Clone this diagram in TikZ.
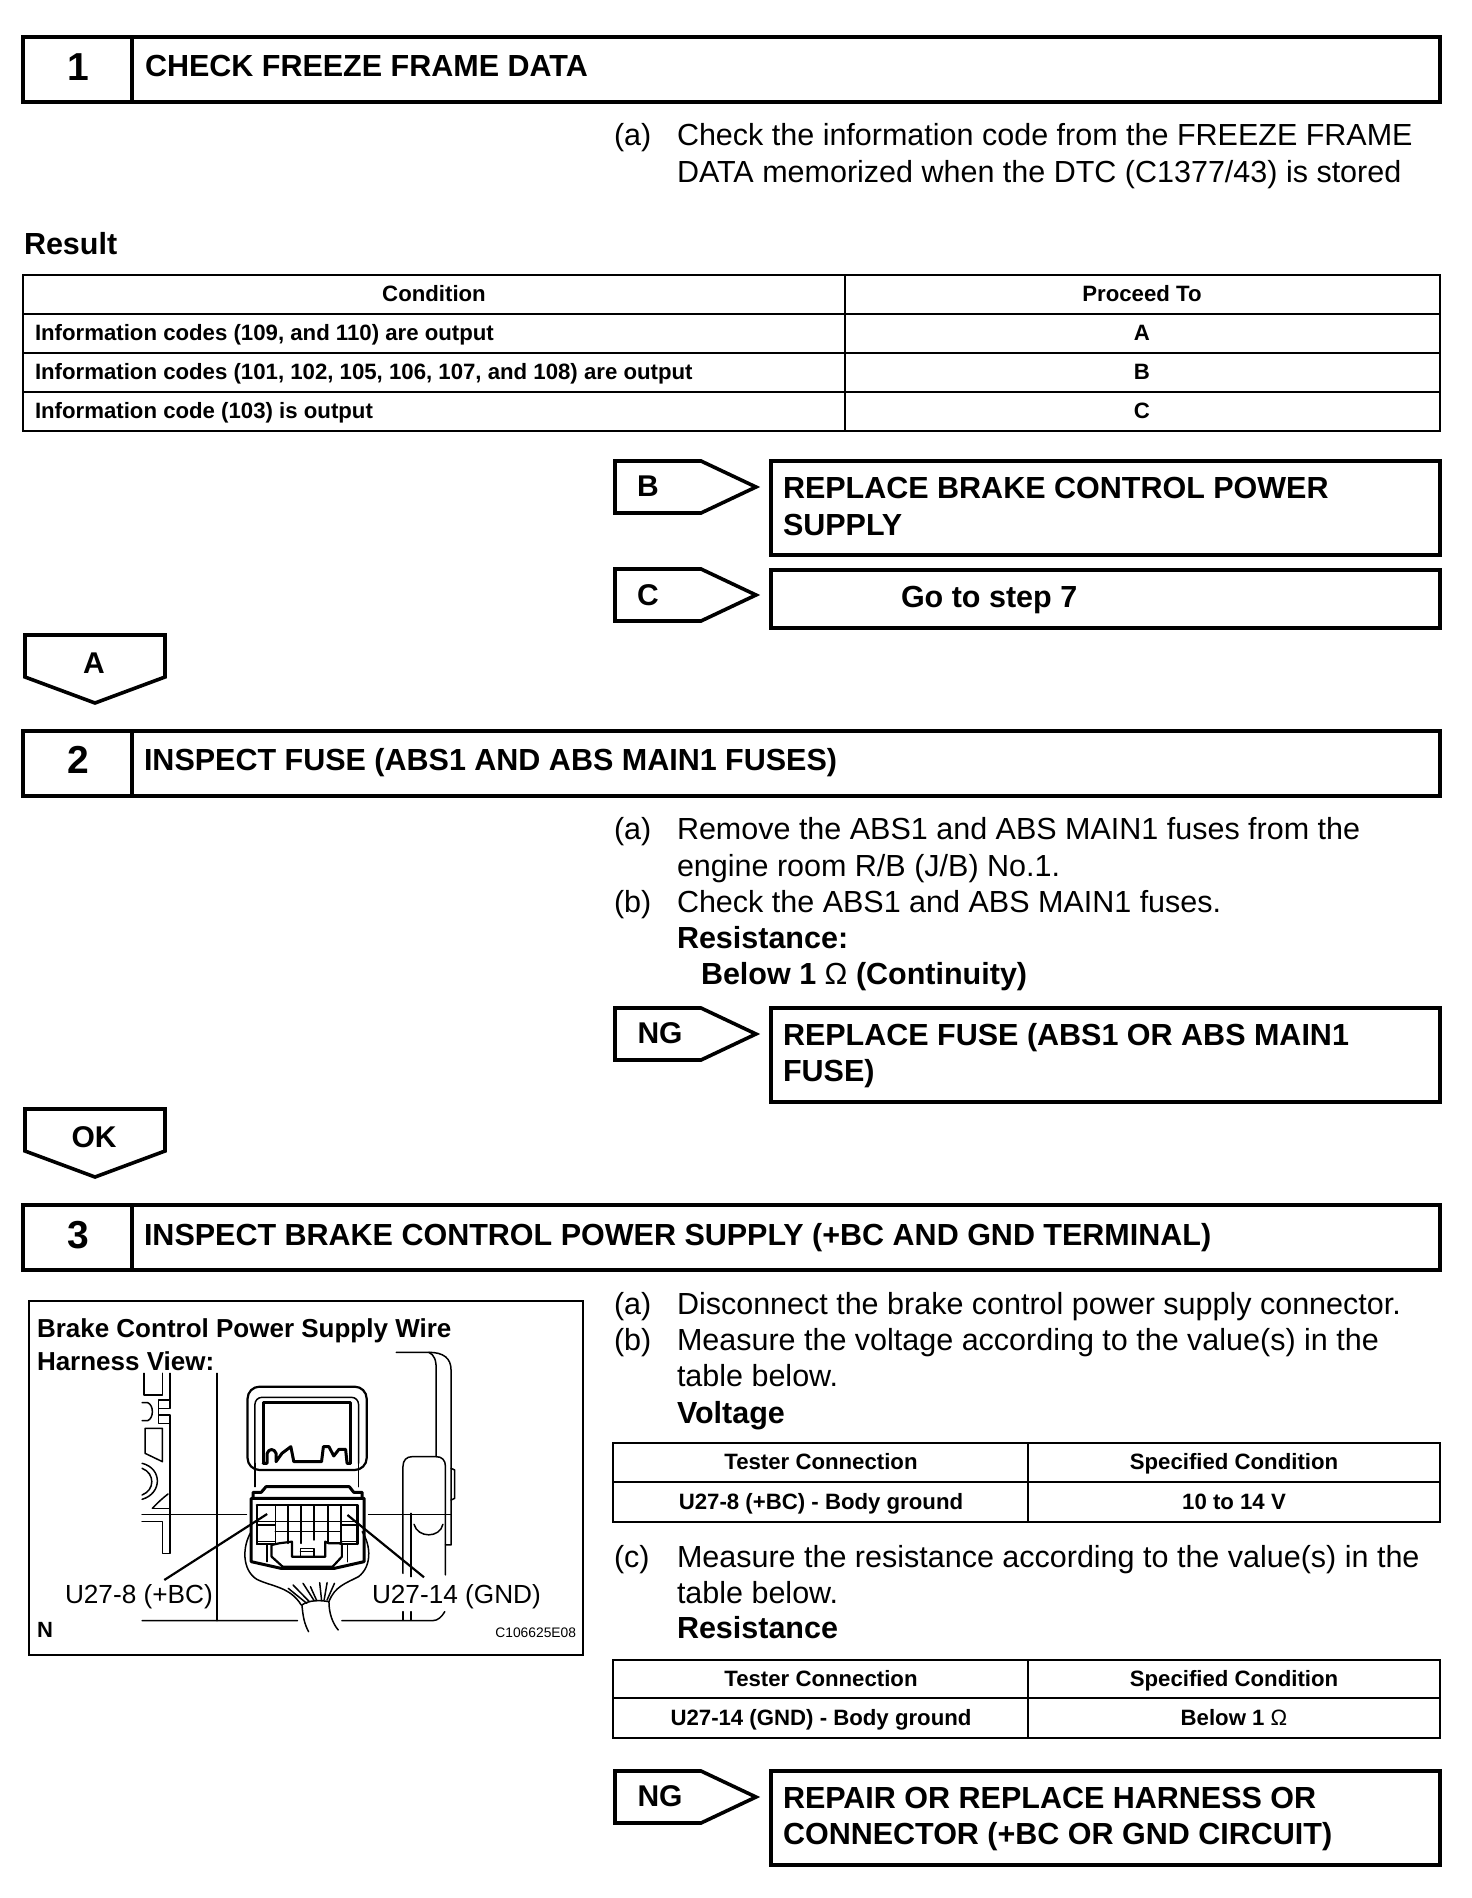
\documentclass[tikz,border=0pt]{standalone}
\usepackage{fontspec}
\setmainfont{Liberation Sans}
\newcommand{\fs}[1]{\fontsize{#1}{#1}\selectfont}
\tikzset{
 x=1pt,y=-1pt,
 txt/.style={inner sep=0pt,outer sep=0pt,text depth=0pt},
 body/.style={txt,anchor=west,font=\fs{30.5},text height=21.9pt},
 bodyb/.style={txt,anchor=west,font=\fs{30.5}\bfseries,text height=21.9pt},
 num/.style={txt,anchor=center,font=\fs{39}\bfseries,text height=28pt},
 head/.style={txt,anchor=west,font=\fs{30.5}\bfseries,text height=21.9pt},
 cell/.style={txt,anchor=west,font=\fs{22.2}\bfseries,text height=16pt},
 cellc/.style={txt,anchor=center,font=\fs{22.2}\bfseries,text height=16pt},
 tag/.style={txt,anchor=center,font=\fs{30}\bfseries,text height=21.6pt},
 figb/.style={txt,anchor=west,font=\fs{26}\bfseries,text height=18.7pt},
 figl/.style={txt,anchor=west,font=\fs{26.2},text height=18.8pt},
 frame/.style={draw,line width=4pt,line join=miter},
 tbl/.style={draw,line width=2.4pt},
 result/.style={draw,line width=3.4pt},
 pent/.style={draw,line width=3.6pt,line join=miter},
 art/.style={line width=1.5pt,line cap=round,line join=round},
 artm/.style={line width=2.2pt,line cap=round,line join=round},
 artb/.style={line width=3pt,line cap=round,line join=round},
}
\begin{document}
\begin{tikzpicture}
\useasboundingbox (0,0) rectangle (1472,1898);
% section 1
\draw[frame] (23,37) rectangle (1440,102) (132,37) -- (132,102);
\node[num] (n1) at (78,66) {1};
\node[head] (t1) at (145,66) {CHECK FREEZE FRAME DATA};
\node[body] (a1) at (614,135) {(a)};
\node[body] (a1x) at (677,135) {Check the information code from the FREEZE FRAME};
\node[body] (a1y) at (677,172) {DATA memorized when the DTC (C1377/43) is stored};
\node[bodyb] (res) at (24,243.5) {Result};
% table 1
\draw[tbl] (23,275) rectangle (1440,431) (845,275) -- (845,431)
 (23,314) -- (1440,314) (23,353) -- (1440,353) (23,392) -- (1440,392);
\node[cellc] (h1) at (434,293) {Condition};
\node[cellc] (h2) at (1142,293) {Proceed To};
\node[cell] (r1) at (35,332) {Information codes (109, and 110) are output};
\node[cellc] (r1b) at (1142,332) {A};
\node[cell] (r2) at (35,371) {Information codes (101, 102, 105, 106, 107, and 108) are output};
\node[cellc] (r2b) at (1142,371) {B};
\node[cell] (r3) at (35,410) {Information code (103) is output};
\node[cellc] (r3b) at (1142,410) {C};
% B
\draw[pent] (615,461) -- (701,461) -- (756,487) -- (701,513) -- (615,513) -- cycle;
\draw[line width=1.6pt] (615,460) -- (701,460);
\node[tag] (tb) at (648,486) {B};
\draw[result] (771,461) rectangle (1440,555);
\node[bodyb] (rb1) at (783,488) {REPLACE BRAKE CONTROL POWER};
\node[bodyb] (rb2) at (783,525) {SUPPLY};
% C
\draw[pent] (615,569) -- (701,569) -- (756,595) -- (701,621) -- (615,621) -- cycle;
\node[tag] (tc) at (648,595) {C};
\draw[result] (771,570) rectangle (1440,628);
\node[bodyb] (rc1) at (901,597) {Go to step 7};
% A
\draw[pent] (25,635) -- (165,635) -- (165,677) -- (95,703) -- (25,677) -- cycle;
\node[tag] (ta) at (94,663) {A};
% section 2
\draw[frame] (23,731) rectangle (1440,796) (132,731) -- (132,796);
\node[num] (n2) at (78,759) {2};
\node[head] (t2) at (144,760) {INSPECT FUSE (ABS1 AND ABS MAIN1 FUSES)};
\node[body] (a2) at (614,829) {(a)};
\node[body] (a2x) at (677,829) {Remove the ABS1 and ABS MAIN1 fuses from the};
\node[body] (a2y) at (677,866) {engine room R/B (J/B) No.1.};
\node[body] (b2) at (614,902) {(b)};
\node[body] (b2x) at (677,902) {Check the ABS1 and ABS MAIN1 fuses.};
\node[bodyb] (b2y) at (677,938) {Resistance:};
\node[bodyb] (b2z) at (701,974) {Below 1 {\mdseries Ω} (Continuity)};
% NG 1
\draw[pent] (615,1008) -- (701,1008) -- (756,1034) -- (701,1060) -- (615,1060) -- cycle;
\node[tag] (tn1) at (660,1033) {NG};
\draw[result] (771,1008) rectangle (1440,1102);
\node[bodyb] (rn1) at (783,1035) {REPLACE FUSE (ABS1 OR ABS MAIN1};
\node[bodyb] (rn2) at (783,1071) {FUSE)};
% OK
\draw[pent] (25,1109) -- (165,1109) -- (165,1151) -- (95,1177) -- (25,1151) -- cycle;
\node[tag] (tok) at (94,1137) {OK};
% section 3
\draw[frame] (23,1205) rectangle (1440,1270) (132,1205) -- (132,1270);
\node[num] (n3) at (78,1234) {3};
\node[head] (t3) at (144,1235) {INSPECT BRAKE CONTROL POWER SUPPLY (+BC AND GND TERMINAL)};
% figure
\draw[line width=2pt] (29,1301) rectangle (583,1655);
\node[figb] (f1) at (37,1328) {Brake Control Power Supply Wire};
\node[figb] (f2) at (37,1361) {Harness View:};
\node[figl] (l1) at (65,1594) {U27-8 (+BC)};
\node[figl] (l2) at (372,1594) {U27-14 (GND)};
\node[txt,anchor=west,font=\fs{22}\bfseries,text height=15.8pt] (nn) at (37,1630) {N};
\node[txt,anchor=east,font=\fs{13.8},text height=9.9pt] (code) at (576,1633) {C106625E08};
\begin{scope}[x=.37pt,y=-.33333pt,shift={(54.05,3870)}]
 % right bracket
 \draw[art] (1017,187) -- (1105,187) .. controls (1145,187) and (1165,205) .. (1165,240) -- (1165,765) -- (1150,765);
 \draw[art] (1105,187) .. controls (1120,195) and (1125,210) .. (1125,240) -- (1125,500);
 \draw[art] (1165,535) -- (1175,540) -- (1175,625) -- (1165,630);
 \draw[art] (1035,850) -- (1035,530) .. controls (1035,510) and (1045,500) .. (1060,500) -- (1125,500) .. controls (1140,500) and (1150,510) .. (1150,530) -- (1150,855);
 \draw[art] (1057,670) -- (1057,860);
 \draw[art] (1065,703) .. controls (1075,745) and (1135,745) .. (1143,703);
 \draw[art] (1035,965) -- (1035,990) (1057,965) -- (1057,990);
 \draw[art] (330,992) -- (750,992) (870,992) -- (1115,992) .. controls (1130,992) and (1140,980) .. (1148,965);
 \draw[art] (533,250) -- (533,992);
 \draw[art] (330,673) -- (612,673) (942,673) -- (1165,673);
 % left bracket
 \draw[art] (335,250) -- (335,315) -- (385,315) -- (385,250);
 \draw[art] (405,250) -- (405,355) -- (375,355) -- (375,375) -- (405,375) -- (405,790) -- (385,790) -- (385,695) -- (330,695);
 \draw[art] (405,330) -- (375,330) -- (375,355) (375,375) -- (375,400) -- (405,400);
 \draw[art] (330,338) -- (345,338) .. controls (362,345) and (362,385) .. (345,392) -- (330,392);
 \draw[art] (338,415) -- (385,415) -- (385,515) -- (338,490) -- cycle;
 \draw[art] (330,520) .. controls (385,535) and (385,610) .. (330,628);
 \draw[art] (330,535) .. controls (365,550) and (365,600) .. (330,615);
 \draw[art] (358,655) .. controls (370,640) and (385,625) .. (400,612);
 \draw[art] (358,655) -- (405,655);
 % upper connector
 \draw[artm,rounded corners=12pt] (615,540) -- (615,290) -- (937,290) -- (937,540) -- cycle;
 \draw[art,rounded corners=7pt] (635,520) -- (635,322) -- (915,322) -- (915,520);
 \draw[artb] (657,520) -- (657,338) -- (893,338) -- (893,520);
 \draw[artb] (657,520) -- (668,520) -- (668,490) .. controls (672,475) and (688,475) .. (692,490) -- (692,515) -- (708,490) -- (732,470) -- (740,515) -- (815,515) -- (820,470) -- (835,470) -- (848,498) -- (862,478) -- (880,478) -- (884,520) -- (893,520);
 \draw[art] (635,520) -- (635,590) (915,520) -- (915,590);
 % lower connector
 \draw[artb] (630,625) -- (630,607) -- (652,607) -- (665,590) -- (890,590) -- (902,607) -- (925,607) -- (925,625);
 \draw[artb] (625,625) -- (930,625) -- (930,815) -- (850,835) -- (705,835) -- (625,815) -- cycle;
 \draw[artm] (640,645) -- (912,645) -- (912,762) (640,645) -- (640,762);
 \draw[art] (640,695) -- (912,695) (690,725) -- (868,725) (690,645) -- (690,760) (725,645) -- (725,760) (760,645) -- (760,760) (795,645) -- (795,750) (832,645) -- (832,760) (868,645) -- (868,760);
 \draw[art] (640,705) -- (690,705) (640,755) -- (690,755) (868,705) -- (912,705) (868,755) -- (912,755);
 \draw[art] (640,762) -- (690,762) (865,762) -- (912,762) (668,762) -- (668,815) (885,762) -- (885,815);
 \draw[artm] (680,765) -- (680,800) -- (710,830) -- (845,830) -- (870,800) -- (870,760) -- (835,760) -- (825,755) -- (825,800) -- (735,800) -- (735,755) -- (700,760) -- (680,765);
 \draw[art] (758,775) rectangle (795,800) (758,785) -- (795,785);
 % leaders
 \draw[line width=2.2pt] (390,870) -- (668,672) (1092,862) -- (885,675);
 % wires
 \draw[art] (625,725) .. controls (600,770) and (600,840) .. (640,868) .. controls (680,890) and (730,890) .. (760,945);
 \draw[art] (925,725) .. controls (950,770) and (950,830) .. (915,860) .. controls (880,880) and (850,890) .. (835,935);
 \draw[art] (762,945) .. controls (780,930) and (810,930) .. (835,935);
 \draw[art] (762,945) .. controls (765,980) and (768,1000) .. (780,1025);
 \draw[art] (835,935) .. controls (835,970) and (845,1000) .. (860,1020);
 \draw[art] (725,895) -- (775,940) (738,885) -- (782,935) (765,880) -- (795,932) (785,890) -- (802,932) (810,878) -- (815,930) (830,878) -- (822,930) (850,880) -- (830,930);
\end{scope}
% section 3 text
\node[body] (a3) at (614,1304) {(a)};
\node[body] (a3x) at (677,1304) {Disconnect the brake control power supply connector.};
\node[body] (b3) at (614,1340) {(b)};
\node[body] (b3x) at (677,1340) {Measure the voltage according to the value(s) in the};
\node[body] (b3y) at (677,1376) {table below.};
\node[bodyb] (b3z) at (677,1413) {Voltage};
% table 2
\draw[tbl] (613,1443) rectangle (1440,1522) (1028,1443) -- (1028,1522) (613,1482) -- (1440,1482);
\node[cellc] (p1) at (821,1461) {Tester Connection};
\node[cellc] (p2) at (1234,1461) {Specified Condition};
\node[cellc] (p3) at (821,1501) {U27-8 (+BC) - Body ground};
\node[cellc] (p4) at (1234,1501) {10 to 14 V};
\node[body] (c3) at (614,1557) {(c)};
\node[body] (c3x) at (677,1557) {Measure the resistance according to the value(s) in the};
\node[body] (c3y) at (677,1593) {table below.};
\node[bodyb] (c3z) at (677,1628) {Resistance};
% table 3
\draw[tbl] (613,1660) rectangle (1440,1738) (1028,1660) -- (1028,1738) (613,1698) -- (1440,1698);
\node[cellc] (q1) at (821,1678) {Tester Connection};
\node[cellc] (q2) at (1234,1678) {Specified Condition};
\node[cellc] (q3) at (821,1717) {U27-14 (GND) - Body ground};
\node[cellc] (q4) at (1234,1717) {Below 1 {\mdseries Ω}};
% NG 2
\draw[pent] (615,1771) -- (701,1771) -- (756,1797) -- (701,1823) -- (615,1823) -- cycle;
\node[tag] (tn2) at (660,1796) {NG};
\draw[result] (771,1771) rectangle (1440,1865);
\node[bodyb] (rr1) at (783,1798) {REPAIR OR REPLACE HARNESS OR};
\node[bodyb] (rr2) at (783,1834) {CONNECTOR (+BC OR GND CIRCUIT)};
\end{tikzpicture}
\end{document}
